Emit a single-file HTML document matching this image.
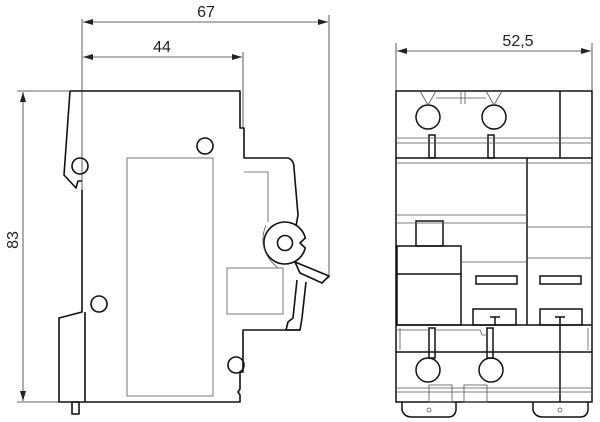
<!DOCTYPE html>
<html><head><meta charset="utf-8"><style>
html,body{margin:0;padding:0;background:#fff;width:600px;height:422px;overflow:hidden}
svg{display:block}
text{font-family:"Liberation Sans",sans-serif;font-size:16px;fill:#222}
</style></head><body>
<svg width="600" height="422" viewBox="0 0 600 422" xmlns="http://www.w3.org/2000/svg">
<defs>
<marker id="a" viewBox="0 0 10 6" refX="10" refY="3" markerWidth="10" markerHeight="6" orient="auto-start-reverse" markerUnits="userSpaceOnUse"><path d="M0,0 L10,3 L0,6z" fill="#222"/></marker>
</defs>
<g stroke="#333" stroke-width="0.8" fill="none">
<line x1="82" y1="19" x2="82" y2="190"/>
<line x1="329" y1="15" x2="329" y2="278"/>
<line x1="243" y1="52" x2="243" y2="128"/>
<line x1="83" y1="22" x2="328" y2="22" marker-start="url(#a)" marker-end="url(#a)"/>
<line x1="83" y1="57" x2="242" y2="57" marker-start="url(#a)" marker-end="url(#a)"/>
<line x1="17" y1="91" x2="70" y2="91"/>
<line x1="17" y1="402" x2="60" y2="402"/>
<line x1="23" y1="92" x2="23" y2="401" marker-start="url(#a)" marker-end="url(#a)"/>
<line x1="396" y1="43" x2="396" y2="91"/>
<line x1="592" y1="43" x2="592" y2="91"/>
<line x1="397" y1="51" x2="591" y2="51" marker-start="url(#a)" marker-end="url(#a)"/>
</g>
<text x="206" y="17" text-anchor="middle">67</text>
<text x="162" y="52" text-anchor="middle">44</text>
<text x="518" y="46" text-anchor="middle">52,5</text>
<text transform="translate(18,240) rotate(-90)" text-anchor="middle">83</text>

<g stroke="#111" stroke-width="1.6" fill="none" stroke-linejoin="round">
<path d="M70,91 L240,91 L240,128 L244,128 L244,158 L288,158 Q294,160 294,168 L298,215 L296,226"/>
<path d="M82,190 L82,312 L59,318 L59,402 L240,402 L240,395 L238,392 L240,389 L240,372 L243,372 L243,330 L300,330 L302,318 L306,282"/>
<path d="M70,91 L64,175 L76,188 L78,181 L82,181"/>
<line x1="85" y1="312" x2="85" y2="402"/>
<rect x="72" y="402" width="7" height="12"/>
<path d="M305.3,238 A21,21 0 1 0 305.3,248 L300,243 Z" fill="#fff"/>
<path d="M295,262 L329,276 L322,283 L300,273 Z" fill="#fff"/>
<circle cx="285" cy="243" r="7.5"/>
<circle cx="80" cy="166" r="8"/>
<circle cx="205" cy="146" r="8"/>
<circle cx="99" cy="304" r="8"/>
<circle cx="236" cy="365" r="8"/>
<path d="M300,330 L286,330 L288,322 L293,318 L297,280"/>
</g>
<g stroke="#555" stroke-width="0.8" fill="none">
<rect x="127" y="158" width="86" height="238"/>
<rect x="227" y="268" width="56" height="46"/>
<path d="M244,172 L268,172 L268,222"/>
<path d="M266,225 Q256,250 278,268"/>
</g>

<g stroke="#111" stroke-width="1.5" fill="none">
<rect x="396" y="91" width="196" height="311"/>
<line x1="396" y1="158" x2="592" y2="158"/>
<line x1="396" y1="325" x2="592" y2="325"/>
<line x1="560" y1="91" x2="560" y2="158"/>
<line x1="527" y1="158" x2="527" y2="325"/>
<line x1="396" y1="352" x2="592" y2="352"/>
<line x1="560" y1="325" x2="560" y2="402"/>
<circle cx="428" cy="117" r="12"/>
<circle cx="494" cy="117" r="12"/>
<circle cx="428" cy="370" r="12"/>
<circle cx="491" cy="370" r="12"/>
<rect x="397" y="246" width="64" height="79"/>
<line x1="397" y1="274" x2="461" y2="274"/>
<rect x="416" y="221" width="27" height="25"/>
<rect x="476" y="276" width="41" height="8"/>
<rect x="540" y="276" width="41" height="8"/>
<rect x="473" y="309" width="43" height="16"/>
<rect x="540" y="309" width="42" height="16"/>
<rect x="429" y="135" width="6" height="23"/>
<rect x="488" y="135" width="6" height="23"/>
<rect x="429" y="328" width="6" height="30"/>
<rect x="487" y="328" width="6" height="30"/>
<path d="M402,402 L402,410 Q404,417 412,417 L448,417 Q455,417 456,410 L456,402"/>
<path d="M533,402 L533,410 Q535,417 543,417 L580,417 Q587,417 588,410 L588,402"/>
<line x1="490" y1="317" x2="500" y2="317"/><line x1="495" y1="317" x2="495" y2="325"/>
<line x1="555" y1="317" x2="565" y2="317"/><line x1="560" y1="317" x2="560" y2="325"/>
</g>
<g stroke="#555" stroke-width="0.8" fill="none">
<line x1="396" y1="138" x2="592" y2="138"/>
<line x1="396" y1="143" x2="592" y2="143"/>
<line x1="396" y1="163" x2="592" y2="163"/>
<line x1="396" y1="215" x2="527" y2="215"/>
<line x1="396" y1="223" x2="527" y2="223"/>
<line x1="527" y1="227" x2="592" y2="227"/>
<line x1="527" y1="258" x2="592" y2="258"/>
<line x1="461" y1="262" x2="527" y2="262"/>
<path d="M420,91 L428,105 M436,91 L428,105 M486,91 L494,105 M502,91 L494,105"/>
<line x1="436" y1="98" x2="486" y2="98"/>
<line x1="461" y1="91" x2="461" y2="104"/><line x1="465" y1="91" x2="465" y2="104"/>
<line x1="396" y1="388" x2="592" y2="388"/>
<line x1="396" y1="392" x2="592" y2="392"/>
<rect x="429" y="385" width="23" height="17"/>
<rect x="464" y="385" width="23" height="17"/>
<line x1="400" y1="328" x2="400" y2="350"/>
<line x1="588" y1="328" x2="588" y2="350"/>
<circle cx="429" cy="410" r="2"/><circle cx="560" cy="410" r="2"/>
<path d="M396,330 L430,330 M436,330 L480,330 L482,335 L487,335"/>
</g>
</svg>
</body></html>
